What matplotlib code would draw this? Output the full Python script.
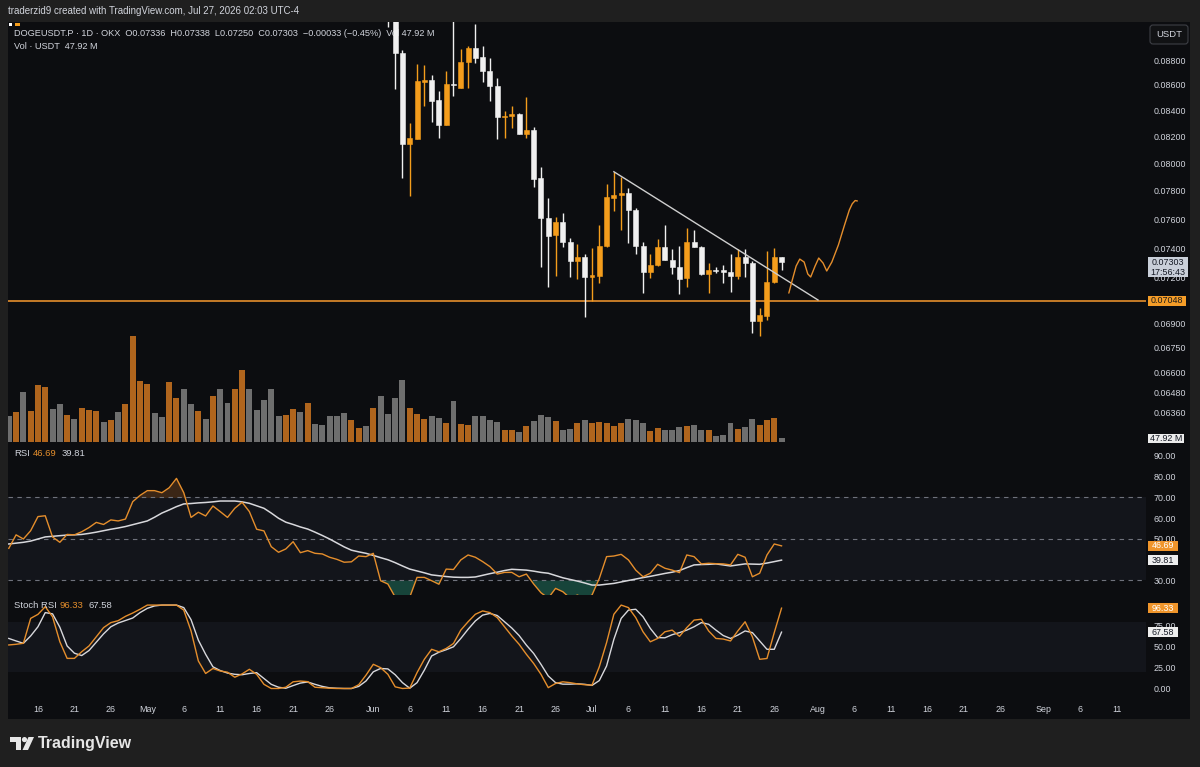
import matplotlib
matplotlib.use("Agg")
import matplotlib.pyplot as plt
from matplotlib import font_manager
from matplotlib.patches import Rectangle, Polygon, Circle, FancyBboxPatch
from matplotlib.transforms import Affine2D
from matplotlib.ticker import FixedLocator, NullLocator, NullFormatter
import numpy as np
import pandas as pd

# ---------------------------------------------------------------- data
start_date = "2026-04-12"           # first daily bar (index 0)

volume_musdt = [
    308, 356, 596, 376, 680, 660, 392, 452, 328, 272,
    412, 384, 368, 240, 260, 364, 452, 1268, 728, 692,
    344, 296, 720, 528, 632, 460, 368, 280, 552, 640,
    464, 640, 860, 640, 388, 500, 640, 316, 328, 392,
    356, 464, 220, 200, 316, 308, 344, 268, 164, 192,
    404, 548, 336, 528, 748, 404, 332, 272, 308, 288,
    232, 488, 212, 200, 308, 308, 260, 240, 148, 140,
    116, 192, 252, 320, 296, 248, 140, 156, 232, 268,
    232, 244, 232, 192, 232, 272, 260, 232, 132, 164,
    140, 148, 184, 192, 200, 148, 148, 68, 88, 232,
    156, 176, 280, 204, 260, 288, 47.92]
volume_up = [
    0, 1, 0, 1, 1, 1, 0, 0, 1, 0,
    1, 1, 1, 0, 1, 0, 1, 1, 1, 1,
    0, 0, 1, 1, 0, 0, 1, 0, 1, 0,
    0, 1, 1, 0, 0, 0, 0, 0, 1, 1,
    0, 1, 0, 0, 0, 0, 0, 1, 1, 0,
    1, 0, 0, 0, 0, 1, 1, 1, 0, 0,
    1, 0, 1, 1, 0, 0, 0, 0, 1, 1,
    0, 1, 0, 0, 0, 1, 0, 0, 1, 0,
    1, 1, 1, 1, 1, 0, 0, 0, 1, 1,
    0, 0, 0, 1, 0, 0, 1, 0, 0, 0,
    1, 0, 0, 1, 1, 1, 0]

candle_start = 52                   # 2026-06-03
opens = [
    0.0940, 0.0925, 0.08859, 0.08144, 0.08182, 0.08624, 0.08637, 0.08485, 0.08288, 0.08608,
    0.08575, 0.08786, 0.08898, 0.08822, 0.08714, 0.08595, 0.08350, 0.08356, 0.08373, 0.08220,
    0.08250, 0.07891, 0.07605, 0.07489, 0.07577, 0.07443, 0.07314, 0.07341, 0.07203, 0.07211,
    0.07416, 0.07747, 0.07771, 0.07785, 0.07664, 0.07413, 0.07236, 0.07285, 0.07409, 0.07319,
    0.07270, 0.07196, 0.07443, 0.07409, 0.07226, 0.07252, 0.07250, 0.07238, 0.07214, 0.07337,
    0.07297, 0.06919, 0.06951, 0.07174, 0.07336]
highs = [
    0.0952, 0.0938, 0.08881, 0.08306, 0.08768, 0.08760, 0.08680, 0.08552, 0.08711, 0.0915,
    0.08889, 0.08914, 0.09097, 0.08914, 0.08816, 0.08657, 0.08396, 0.08433, 0.08383, 0.08507,
    0.08276, 0.07976, 0.07751, 0.07615, 0.07645, 0.07470, 0.07427, 0.07357, 0.07399, 0.07559,
    0.07850, 0.07939, 0.07898, 0.07819, 0.07676, 0.07443, 0.07357, 0.07464, 0.07559, 0.07391,
    0.07413, 0.07535, 0.07524, 0.07413, 0.07297, 0.07273, 0.07285, 0.07357, 0.07391, 0.07391,
    0.07314, 0.07005, 0.07377, 0.07399, 0.07338]
lows = [
    0.0907, 0.08568, 0.07895, 0.07765, 0.08180, 0.08437, 0.08311, 0.08190, 0.08285, 0.08513,
    0.08573, 0.08576, 0.08778, 0.08624, 0.08474, 0.08180, 0.08192, 0.08265, 0.08218, 0.08187,
    0.07830, 0.07274, 0.07141, 0.07214, 0.07405, 0.07207, 0.07191, 0.06946, 0.07049, 0.07167,
    0.07405, 0.07659, 0.07524, 0.07436, 0.07359, 0.07097, 0.07196, 0.07279, 0.07317, 0.07224,
    0.07090, 0.07141, 0.07407, 0.07218, 0.07097, 0.07230, 0.07167, 0.07103, 0.07191, 0.07207,
    0.06842, 0.06824, 0.06925, 0.07163, 0.07250]
closes = [
    0.0925, 0.08859, 0.08144, 0.08192, 0.08631, 0.08639, 0.08474, 0.08288, 0.08608, 0.08600,
    0.08786, 0.08898, 0.08819, 0.08714, 0.08595, 0.08350, 0.08358, 0.08373, 0.08220, 0.08250,
    0.07886, 0.07605, 0.07484, 0.07577, 0.07443, 0.07314, 0.07341, 0.07203, 0.07218, 0.07416,
    0.07758, 0.07771, 0.07785, 0.07664, 0.07413, 0.07236, 0.07285, 0.07409, 0.07319, 0.07270,
    0.07191, 0.07443, 0.07409, 0.07224, 0.07252, 0.07248, 0.07238, 0.07214, 0.07337, 0.07297,
    0.06919, 0.06957, 0.07174, 0.07336, 0.07303]

rsi = [
    45.5, 52.0, 50.0, 54.0, 60.8, 61.2, 51.0, 48.4, 52.2, 52.0,
    53.5, 55.5, 58.0, 57.0, 59.2, 58.7, 59.6, 68.0, 71.0, 73.3,
    73.3, 72.3, 74.7, 79.2, 72.3, 60.4, 62.9, 61.1, 65.9, 63.2,
    60.4, 64.8, 67.7, 63.2, 54.7, 53.9, 46.3, 43.6, 45.2, 48.7,
    43.4, 44.4, 43.1, 42.8, 41.2, 40.2, 38.8, 39.0, 41.8, 41.5,
    43.1, 29.9, 28.3, 22.0, 20.5, 22.0, 31.5, 31.5, 29.9, 28.2,
    35.5, 35.3, 39.9, 42.3, 41.2, 39.1, 36.7, 33.1, 33.9, 33.9,
    31.8, 33.1, 28.3, 24.1, 21.5, 26.2, 24.6, 21.5, 23.0, 21.0,
    23.0, 31.0, 41.5, 41.8, 42.6, 39.9, 35.0, 31.8, 33.5, 37.8,
    35.9, 35.0, 33.8, 42.3, 41.5, 38.0, 38.3, 38.1, 38.0, 37.5,
    42.6, 41.2, 31.8, 33.5, 42.3, 47.6, 46.69]
rsi_ma = [
    47.6, 48.0, 48.4, 49.0, 50.0, 51.0, 51.3, 51.6, 51.9, 52.0,
    52.2, 52.7, 53.3, 54.0, 54.7, 55.3, 56.0, 56.9, 57.8, 58.7,
    60.5, 62.5, 64.0, 65.6, 66.9, 67.1, 67.4, 67.6, 67.9, 68.3,
    68.3, 68.3, 67.9, 67.2, 66.0, 64.8, 62.5, 60.0, 58.1, 57.0,
    55.8, 54.8, 53.3, 51.7, 50.0, 48.1, 46.2, 44.6, 43.8, 43.1,
    42.1, 41.0, 40.0, 38.6, 37.0, 35.5, 34.6, 33.7, 32.7, 32.3,
    31.9, 31.6, 31.5, 31.5, 31.7, 32.5, 33.3, 34.0, 34.8, 35.4,
    35.2, 35.0, 34.5, 33.9, 33.5, 32.4, 31.3, 30.5, 29.7, 28.8,
    27.8, 27.8, 28.2, 28.6, 29.3, 30.0, 30.7, 31.4, 32.0, 32.7,
    33.4, 34.0, 34.8, 36.2, 37.5, 37.7, 37.8, 38.0, 37.5, 37.0,
    37.5, 38.0, 37.9, 37.8, 38.4, 39.1, 39.81]
stoch_k = [
    52.2, 53.0, 54.2, 84.1, 88.9, 98.1, 86.0, 56.1, 36.1, 36.1,
    44.1, 51.0, 62.0, 73.0, 79.0, 81.3, 86.5, 90.5, 95.0, 100,
    100, 100, 100, 100, 94.0, 69.0, 33.0, 18.0, 24.0, 21.0,
    19.5, 13.5, 17.5, 23.0, 17.0, 5.0, 0, 0, 1.5, 8.0,
    8.9, 8.2, 1.5, 0.9, 0.3, 0, 0, 0, 4.5, 16.0,
    29.0, 25.0, 17.0, 2.0, 0, 0.5, 19.0, 35.0, 47.0, 44.0,
    48.0, 54.0, 70.0, 80.0, 89.0, 93.0, 91.0, 85.0, 74.0, 63.0,
    53.0, 41.0, 30.0, 17.0, 1.0, 6.0, 8.0, 7.0, 5.5, 4.5,
    4.0, 26.0, 55.0, 89.0, 100, 97.0, 85.0, 68.0, 56.0, 60.0,
    68.0, 70.0, 62.5, 73.0, 82.0, 83.0, 69.0, 60.0, 59.3, 57.0,
    69.0, 80.0, 62.0, 35.0, 36.0, 67.0, 96.33]
stoch_d = [
    60.0, 57.0, 54.2, 63.0, 74.0, 91.0, 89.5, 73.5, 51.0, 42.3,
    39.5, 45.5, 55.5, 65.5, 74.0, 78.5, 81.5, 84.5, 91.0, 96.1,
    99.0, 100, 100, 100, 97.0, 82.5, 58.0, 41.0, 26.0, 21.5,
    18.5, 17.0, 16.5, 18.0, 19.0, 12.0, 5.0, 1.5, 0.3, 3.5,
    6.5, 7.8, 5.0, 2.5, 0.8, 0.3, 0, 0, 2.5, 9.0,
    20.0, 24.0, 23.5, 16.5, 7.0, 0.3, 7.0, 22.0, 39.0, 43.5,
    46.5, 50.0, 60.0, 71.0, 81.0, 88.0, 90.0, 87.5, 80.0, 72.5,
    63.5, 52.0, 42.0, 29.0, 15.0, 7.0, 5.2, 5.2, 5.6, 5.0,
    3.7, 9.5, 27.0, 59.0, 84.0, 94.0, 95.0, 86.0, 72.0, 61.0,
    60.8, 64.5, 67.0, 70.0, 74.0, 79.0, 77.0, 70.0, 63.5, 60.0,
    64.0, 69.0, 67.0, 57.0, 47.0, 47.0, 67.58]

price_ticks = [0.088, 0.086, 0.084, 0.082, 0.080, 0.078, 0.076, 0.074, 0.072,
               0.069, 0.0675, 0.066, 0.0648, 0.0636]
price_tick_labels = ["0.08800", "0.08600", "0.08400", "0.08200", "0.08000", "0.07800",
                     "0.07600", "0.07400", "0.07200", "0.06900", "0.06750", "0.06600",
                     "0.06480", "0.06360"]
rsi_ticks = [30, 50, 60, 70, 80, 90]
rsi_tick_labels = ["30.00", "50.00", "60.00", "70.00", "80.00", "90.00"]
stoch_ticks = [0, 25, 50, 75]
stoch_tick_labels = ["0.00", "25.00", "50.00", "75.00"]
date_ticks = ["2026-04-16", "2026-04-21", "2026-04-26", "2026-05-01", "2026-05-06",
              "2026-05-11", "2026-05-16", "2026-05-21", "2026-05-26", "2026-06-01",
              "2026-06-06", "2026-06-11", "2026-06-16", "2026-06-21", "2026-06-26",
              "2026-07-01", "2026-07-06", "2026-07-11", "2026-07-16", "2026-07-21",
              "2026-07-26", "2026-08-01", "2026-08-06", "2026-08-11", "2026-08-16",
              "2026-08-21", "2026-08-26", "2026-09-01", "2026-09-06", "2026-09-11"]
date_tick_labels = ["16", "21", "26", "May", "6", "11", "16", "21", "26", "Jun",
                    "6", "11", "16", "21", "26", "Jul", "6", "11", "16", "21",
                    "26", "Aug", "6", "11", "16", "21", "26", "Sep", "6", "11"]

support_level = 0.07048
trend_x = [83, 111]
trend_p = [0.07939, 0.07054]
sketch_x = [107.0, 107.4, 108.0, 108.5, 109.1, 109.6, 110.0, 110.6, 111.1, 111.7,
            112.2, 112.9, 113.8, 114.6, 115.3, 115.7, 116.1, 116.4]
sketch_p = [0.07099, 0.07172, 0.07278, 0.07325, 0.07305, 0.07225, 0.07205, 0.07278,
            0.07332, 0.07298, 0.07245, 0.07305, 0.07421, 0.07552, 0.07664, 0.07708,
            0.07731, 0.07728]

header_text = "traderzid9 created with TradingView.com, Jul 27, 2026 02:03 UTC-4"
legend_text = ("DOGEUSDT.P \u00b7 1D \u00b7 OKX  O0.07336  H0.07338  L0.07250  "
               "C0.07303  \u22120.00033 (\u22120.45%)  Vol 47.92 M")
vol_legend = "Vol \u00b7 USDT  47.92 M"
countdown = "17:56:43"

# ---------------------------------------------------------------- style
OUTER = "#1f1f1f"
PANEL = "#0c0d10"
BAND = "#13151b"
TXT = "#d1d4dc"
ORANGE = "#f49d1c"
ORANGE_LINE = "#e58e2c"
WHITE_C = "#f0f0f0"
VOL_O = "#b0651d"
VOL_G = "#6e6e6e"
DASH = "#6f727c"

avail = {f.name for f in font_manager.fontManager.ttflist}
FONT = "Liberation Sans" if "Liberation Sans" in avail else "DejaVu Sans"
plt.rcParams["font.family"] = [FONT, "DejaVu Sans"]
AX_FS = 6.4

W, H = 1200, 767
fig = plt.figure(figsize=(W / 100, H / 100), dpi=100, facecolor=OUTER)
pix = Affine2D().scale(1 / W, -1 / H).translate(0, 1) + fig.transFigure

fig.add_artist(Rectangle((8, 22), 1182, 697, transform=pix, facecolor=PANEL,
                         edgecolor="none", zorder=-10))

X_LEFT, X_RIGHT = 8, 1146
PX0, STEP = 8.8, 7.29
XL = (X_LEFT - PX0) / STEP
XR = (X_RIGHT - PX0) / STEP


def pane(y0, y1, z=1):
    ax = fig.add_axes([X_LEFT / W, 1 - y1 / H, (X_RIGHT - X_LEFT) / W, (y1 - y0) / H])
    ax.set_facecolor("none")
    ax.set_zorder(z)
    for s in ax.spines.values():
        s.set_visible(False)
    ax.set_xlim(XL, XR)
    ax.tick_params(axis="x", bottom=False, labelbottom=False)
    ax.tick_params(axis="y", left=False, labelleft=False)
    return ax


n = len(volume_musdt)
idx = np.arange(n)

# ---------------- volume (under the candles)
ax_vol = pane(22, 444, z=1)
vcol = [VOL_O if u else VOL_G for u in volume_up]
ax_vol.bar(idx, volume_musdt, width=0.82, color=vcol, linewidth=0)
ax_vol.set_ylim(-24, 420 * 12)
ax_vol.set_yticks([])

ax_vol.text(14, 33.3, legend_text, transform=pix, color=TXT, fontsize=6.6,
            va="center", ha="left", zorder=0)
ax_vol.text(14, 46.7, vol_legend, transform=pix, color=TXT, fontsize=6.6,
            va="center", ha="left", zorder=0)

# ---------------- candles
ax = pane(22, 444, z=2)
o = np.array(opens); h_ = np.array(highs); l_ = np.array(lows); c = np.array(closes)
ci = np.arange(candle_start, candle_start + len(o))
ccol = [ORANGE if cc >= oo else WHITE_C for oo, cc in zip(o, c)]
ax.set_yscale("log")
ax.set_ylim(0.061772, 0.091137)
ax.set_xlim(XL, XR)
ax.vlines(ci, l_, h_, colors=ccol, linewidth=1.0, zorder=2)
ax.bar(ci, np.abs(c - o), bottom=np.minimum(o, c), width=0.68, color=ccol,
       edgecolor=ccol, linewidth=0.4, zorder=3)
ax.axhline(support_level, color=ORANGE_LINE, linewidth=1.2, zorder=1)
ax.plot(trend_x, trend_p, color="#cfcfcf", linewidth=1.0, zorder=4)
ax.plot(sketch_x, sketch_p, color=ORANGE_LINE, linewidth=1.0, zorder=4,
        solid_joinstyle="round", solid_capstyle="round")
ax.yaxis.tick_right()
ax.yaxis.set_major_locator(FixedLocator(price_ticks))
ax.set_yticklabels(price_tick_labels)
ax.yaxis.set_minor_locator(NullLocator())
ax.yaxis.set_minor_formatter(NullFormatter())
ax.tick_params(axis="y", right=False, labelright=True, length=0, pad=5.2,
               labelsize=AX_FS, labelcolor=TXT)

# ---------------- RSI
ax_r = pane(444, 595)
ax_r.set_ylim(23.01, 95.78)
r = np.array(rsi)
ax_r.axhspan(30, 70, color=BAND, zorder=0, linewidth=0)
ax_r.fill_between(idx, r, 30, where=r < 30, interpolate=True, color="#17443a",
                  linewidth=0, zorder=1)
ax_r.fill_between(idx, r, 70, where=r > 70, interpolate=True, color="#3b2616",
                  linewidth=0, zorder=1)
for lv in (70, 50, 30):
    ax_r.axhline(lv, color=DASH, linewidth=0.8, linestyle=(0, (4, 4)), zorder=1)
ax_r.plot(idx, rsi_ma, color="#d8d8dc", linewidth=1.1, zorder=3)
ax_r.plot(idx, r, color=ORANGE_LINE, linewidth=1.0, zorder=4)
ax_r.yaxis.tick_right()
ax_r.set_yticks(rsi_ticks, rsi_tick_labels)
ax_r.tick_params(axis="y", right=False, labelright=True, length=0, pad=5.2,
                 labelsize=AX_FS, labelcolor=TXT)

# ---------------- Stoch RSI
ax_s = pane(596, 700)
ax_s.set_ylim(-13.8, 110.9)
ax_s.axhspan(20, 80, color=BAND, zorder=0, linewidth=0)
ax_s.plot(idx, stoch_d, color="#d8d8dc", linewidth=1.0, zorder=3)
ax_s.plot(idx, stoch_k, color=ORANGE_LINE, linewidth=1.0, zorder=4)
ax_s.yaxis.tick_right()
ax_s.set_yticks(stoch_ticks, stoch_tick_labels)
ax_s.tick_params(axis="y", right=False, labelright=True, length=0, pad=5.2,
                 labelsize=AX_FS, labelcolor=TXT)
t0 = pd.Timestamp(start_date)
xpos = [(pd.Timestamp(d) - t0).days for d in date_ticks]
ax_s.set_xticks(xpos, date_tick_labels)
ax_s.tick_params(axis="x", bottom=False, labelbottom=True, length=0, pad=3.3,
                 labelsize=AX_FS, labelcolor=TXT)


# ---------------- axis tags
def tag(a, value, text, bg, fg, w=38, h=10.5, extra=None):
    yd = a.transData.transform((0, value))[1]
    yp = H - yd
    if extra is None:
        fig.add_artist(Rectangle((1148, yp - h / 2), w, h, transform=pix,
                                 facecolor=bg, edgecolor="none", zorder=5))
    else:
        fig.add_artist(Rectangle((1148, yp - 5.5), w, 20.5, transform=pix,
                                 facecolor=bg, edgecolor="none", zorder=5))
        fig.text(1148 + w / 2, yp + 9.7, extra, transform=pix, color=fg,
                 fontsize=AX_FS, ha="center", va="center", zorder=6)
    fig.text(1148 + w / 2, yp, text, transform=pix, color=fg, fontsize=AX_FS,
             ha="center", va="center", zorder=6)


tag(ax, support_level, "0.07048", "#f59d28", "#1a1a1a")
tag(ax, closes[-1], "0.07303", "#c9cfd9", "#131722", w=40, extra=countdown)
tag(ax_vol, volume_musdt[-1], "47.92 M", "#ececec", "#131722", w=36, h=9)
tag(ax_r, rsi[-1], "46.69", "#f0952b", "#ffffff", w=30)
tag(ax_r, rsi_ma[-1], "39.81", "#eeeeee", "#131722", w=30)
tag(ax_s, stoch_k[-1], "96.33", "#f0952b", "#ffffff", w=30)
tag(ax_s, stoch_d[-1], "67.58", "#eeeeee", "#131722", w=30)

# ---------------- legends / header
fig.text(8, 11, header_text, transform=pix, color=TXT, fontsize=7.0, va="center")
fig.text(14, 454, "RSI", transform=pix, color=TXT, fontsize=6.8, va="center")
fig.text(32.5, 454, "46.69", transform=pix, color=ORANGE_LINE, fontsize=6.8, va="center")
fig.text(62, 454, "39.81", transform=pix, color=TXT, fontsize=6.8, va="center")
fig.text(14, 606, "Stoch RSI", transform=pix, color=TXT, fontsize=6.8, va="center")
fig.text(59.3, 606, "96.33", transform=pix, color=ORANGE_LINE, fontsize=6.8, va="center")
fig.text(88.8, 606, "67.58", transform=pix, color=TXT, fontsize=6.8, va="center")

fig.add_artist(Rectangle((9, 23), 3, 2.5, transform=pix, facecolor="#ffffff",
                         edgecolor="none", zorder=5))
fig.add_artist(Rectangle((14.5, 23), 5, 2.5, transform=pix, facecolor=ORANGE,
                         edgecolor="none", zorder=5))

fig.add_artist(FancyBboxPatch((1150, 25), 38, 19, boxstyle="round,pad=0,rounding_size=3",
                              transform=pix, facecolor="#111214", edgecolor="#3d3f45",
                              linewidth=0.8, zorder=5))
fig.text(1169, 34.5, "USDT", transform=pix, color=TXT, fontsize=6.8, ha="center",
         va="center", zorder=6)

# ---------------- TradingView logo
LOGO = "#e6e6e6"
fig.add_artist(Polygon([(10, 737), (20.5, 737), (20.5, 750), (15.5, 750), (15.5, 742),
                        (10, 742)], closed=True, transform=pix, facecolor=LOGO,
                       edgecolor="none"))
fig.add_artist(Circle((24.5, 739.6), 2.6, transform=pix, facecolor=LOGO, edgecolor="none"))
fig.add_artist(Polygon([(28.5, 737), (34, 737), (28, 750), (22.5, 750)], closed=True,
                       transform=pix, facecolor=LOGO, edgecolor="none"))
fig.text(38, 743.5, "TradingView", transform=pix, color=LOGO, fontsize=11.5,
         fontweight="bold", va="center")

fig.savefig("out.png", dpi=100, facecolor=OUTER)
